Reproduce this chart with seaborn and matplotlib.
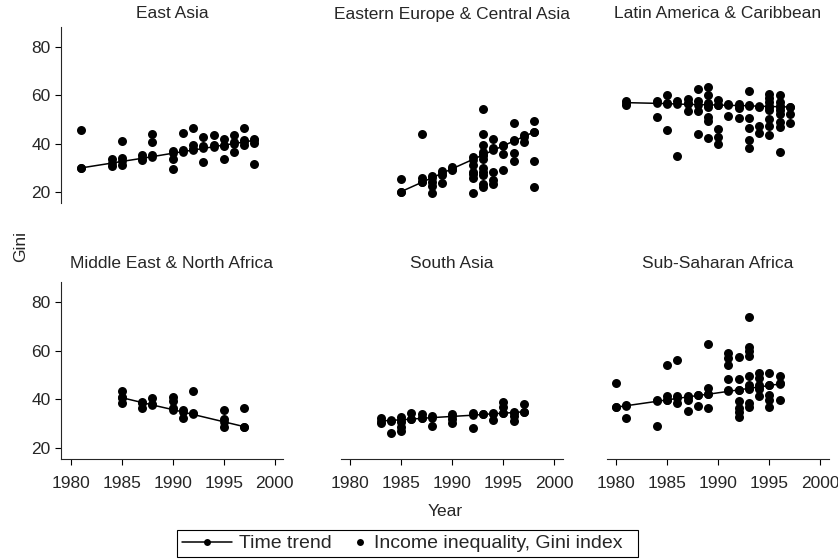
import matplotlib
matplotlib.use("Agg")
import matplotlib.pyplot as plt
import pandas as pd
import seaborn as sns
from matplotlib.lines import Line2D
from matplotlib.legend_handler import HandlerBase

regions = ["East Asia", "Eastern Europe & Central Asia", "Latin America & Caribbean",
           "Middle East & North Africa", "South Asia", "Sub-Saharan Africa"]

# Observed Gini index by survey year, one pair of lists per region
ea_year = [1981, 1981, 1984, 1984, 1985, 1985, 1985, 1987, 1987, 1988, 1988, 1988,
           1990, 1990, 1990, 1991, 1991, 1992, 1992, 1992, 1993, 1993, 1993, 1994, 1994,
           1995, 1995, 1995, 1996, 1996, 1996, 1997, 1997, 1997, 1998, 1998, 1998]
ea_gini = [45.5, 29.9, 33.8, 30.6, 41.1, 34.1, 31.0, 35.4, 33.0, 44.1, 40.8, 35.3,
           37.1, 33.8, 29.4, 44.4, 37.4, 46.5, 39.6, 37.9, 42.6, 38.9, 32.4, 43.4, 39.6,
           41.9, 39.2, 33.6, 43.7, 40.7, 36.6, 46.3, 41.4, 39.6, 42.1, 40.4, 31.6]

ee_year = [1985, 1985, 1987, 1987, 1987, 1988, 1988, 1988, 1988, 1989, 1989, 1989,
           1990, 1990, 1992, 1992, 1992, 1992, 1992, 1992,
           1993, 1993, 1993, 1993, 1993, 1993, 1993, 1993, 1993, 1993, 1993,
           1994, 1994, 1994, 1994, 1994, 1995, 1995, 1995, 1996, 1996, 1996, 1996,
           1997, 1997, 1998, 1998, 1998, 1998]
ee_gini = [25.5, 20.1, 44.1, 25.8, 24.1, 26.6, 24.1, 22.5, 19.7, 28.7, 26.9, 23.6,
           30.3, 29.2, 34.3, 31.0, 28.3, 27.2, 25.8, 19.7,
           54.2, 43.9, 39.6, 36.6, 35.2, 33.8, 29.7, 28.3, 26.9, 23.4, 21.9,
           42.1, 38.2, 28.3, 24.8, 23.2, 39.6, 35.7, 29.0, 48.6, 41.4, 35.9, 32.7,
           43.4, 40.7, 49.4, 44.8, 32.7, 21.9]

la_year = [1981, 1981, 1984, 1984, 1985, 1985, 1985, 1986, 1986, 1987, 1987, 1987,
           1988, 1988, 1988, 1988, 1989, 1989, 1989, 1989, 1989, 1989, 1989,
           1990, 1990, 1990, 1990, 1990, 1991, 1991, 1992, 1992, 1992,
           1993, 1993, 1993, 1993, 1993, 1993, 1994, 1994, 1994,
           1995, 1995, 1995, 1995, 1995, 1995, 1995, 1995,
           1996, 1996, 1996, 1996, 1996, 1996, 1996, 1996, 1997, 1997, 1997]
la_gini = [57.7, 55.9, 57.7, 50.9, 60.0, 57.0, 45.7, 57.5, 34.8, 58.6, 56.8, 53.5,
           62.6, 57.5, 53.5, 43.9, 63.6, 60.0, 57.0, 55.0, 51.0, 49.4, 42.5,
           57.9, 56.1, 45.9, 42.8, 39.7, 56.6, 51.6, 56.6, 54.8, 50.8,
           61.8, 56.1, 50.6, 46.5, 41.7, 38.3, 55.2, 47.2, 44.6,
           60.7, 58.9, 57.2, 55.2, 53.9, 50.1, 47.2, 43.7,
           60.1, 57.2, 55.4, 53.8, 52.3, 49.0, 46.9, 36.6, 55.2, 52.1, 48.6]

me_year = [1985, 1985, 1985, 1987, 1987, 1988, 1988, 1990, 1990, 1990,
           1991, 1991, 1992, 1992, 1995, 1995, 1995, 1997, 1997]
me_gini = [43.4, 40.8, 38.6, 39.0, 36.3, 40.4, 38.1, 40.8, 39.3, 36.3,
           35.6, 32.2, 43.4, 34.2, 35.6, 31.8, 28.8, 36.6, 28.8]

sa_year = [1983, 1983, 1984, 1984, 1985, 1985, 1985, 1985, 1986, 1986, 1987, 1987,
           1988, 1988, 1990, 1990, 1990, 1992, 1992, 1993, 1994, 1994,
           1995, 1995, 1995, 1996, 1996, 1996, 1997, 1997]
sa_gini = [32.5, 30.4, 31.1, 26.0, 32.9, 30.8, 28.8, 27.1, 34.2, 31.8, 34.0, 32.2,
           33.2, 29.0, 34.0, 31.8, 30.1, 34.2, 28.4, 33.8, 34.2, 31.5,
           39.0, 37.0, 34.2, 34.9, 33.3, 31.2, 37.9, 34.7]

ss_year = [1980, 1980, 1981, 1981, 1984, 1984, 1985, 1985, 1985, 1986, 1986, 1986,
           1987, 1987, 1987, 1988, 1988, 1989, 1989, 1989, 1989,
           1991, 1991, 1991, 1991, 1991, 1992, 1992, 1992, 1992, 1992, 1992, 1992,
           1993, 1993, 1993, 1993, 1993, 1993, 1993, 1993, 1993,
           1994, 1994, 1994, 1994, 1994, 1995, 1995, 1995, 1995, 1995, 1996, 1996, 1996]
ss_gini = [46.8, 36.8, 37.5, 32.5, 39.7, 29.2, 54.1, 41.4, 39.7, 56.2, 41.4, 38.6,
           41.4, 39.7, 35.3, 41.9, 37.1, 62.7, 44.5, 42.1, 36.4,
           59.2, 56.8, 54.1, 48.4, 43.8, 57.5, 48.2, 43.8, 39.2, 36.6, 34.7, 32.9,
           74.0, 61.4, 60.0, 57.8, 49.7, 45.9, 44.1, 38.6, 37.0,
           50.7, 48.6, 45.9, 44.1, 41.5, 50.7, 45.9, 41.8, 39.7, 37.0, 49.7, 46.8, 39.7]

# Fitted time trend per region, at each survey year
ea_trend_year = [1981, 1984, 1985, 1987, 1988, 1990, 1991, 1992, 1993, 1994, 1995, 1996, 1997, 1998]
ea_trend_gini = [29.9, 31.9, 32.6, 33.9, 34.6, 36.0, 36.7, 37.3, 38.0, 38.7, 39.4, 40.0, 40.7, 41.4]
ee_trend_year = [1985, 1987, 1988, 1989, 1990, 1992, 1993, 1994, 1995, 1996, 1997, 1998]
ee_trend_gini = [20.1, 23.9, 25.8, 27.7, 29.6, 33.4, 35.3, 37.2, 39.1, 41.0, 42.9, 44.8]
la_trend_year = [1981, 1984, 1985, 1986, 1987, 1988, 1989, 1990, 1991, 1992, 1993, 1994, 1995, 1996, 1997]
la_trend_gini = [57.0, 56.7, 56.6, 56.4, 56.3, 56.2, 56.1, 56.0, 55.9, 55.8, 55.7, 55.5, 55.4, 55.3, 55.2]
me_trend_year = [1985, 1987, 1988, 1990, 1991, 1992, 1995, 1997]
me_trend_gini = [40.7, 38.7, 37.7, 35.8, 34.8, 33.8, 30.8, 28.8]
sa_trend_year = [1983, 1984, 1985, 1986, 1987, 1988, 1990, 1992, 1993, 1994, 1995, 1996, 1997]
sa_trend_gini = [31.1, 31.4, 31.6, 31.9, 32.2, 32.5, 33.0, 33.5, 33.8, 34.1, 34.3, 34.6, 34.9]
ss_trend_year = [1980, 1981, 1984, 1985, 1986, 1987, 1988, 1989, 1991, 1992, 1993, 1994, 1995, 1996]
ss_trend_gini = [36.8, 37.4, 39.2, 39.8, 40.4, 41.0, 41.6, 42.1, 43.3, 43.9, 44.5, 45.1, 45.7, 46.3]

x_ticks = [1980, 1985, 1990, 1995, 2000]
y_ticks = [20, 40, 60, 80]

obs_lists = [(ea_year, ea_gini), (ee_year, ee_gini), (la_year, la_gini),
             (me_year, me_gini), (sa_year, sa_gini), (ss_year, ss_gini)]
trend_lists = [(ea_trend_year, ea_trend_gini), (ee_trend_year, ee_trend_gini),
               (la_trend_year, la_trend_gini), (me_trend_year, me_trend_gini),
               (sa_trend_year, sa_trend_gini), (ss_trend_year, ss_trend_gini)]

obs = pd.concat([pd.DataFrame({"region": r, "year": y, "gini": g})
                 for r, (y, g) in zip(regions, obs_lists)], ignore_index=True)
trend = pd.concat([pd.DataFrame({"region": r, "year": y, "gini": g})
                   for r, (y, g) in zip(regions, trend_lists)], ignore_index=True)

sns.set_theme(style="ticks")
plt.rcParams["font.family"] = ["Liberation Sans", "DejaVu Sans"]
plt.rcParams["axes.linewidth"] = 0.8
FS = 12.5

W, H = 838, 560
fig = plt.figure(figsize=(W / 100, H / 100), dpi=100)
fig.patch.set_facecolor("white")

col_left = [61, 340.5, 606.5]
panel_w = 222
rows = [(27.2, 202.9), (281.7, 459.3)]
title_y = [14, 263]

for i, region in enumerate(regions):
    r, c = divmod(i, 3)
    top, bot = rows[r]
    ax = fig.add_axes([col_left[c] / W, 1 - bot / H, panel_w / W, (bot - top) / H])
    sub = obs[obs.region == region]
    tr = trend[trend.region == region]
    sns.lineplot(data=tr, x="year", y="gini", color="black", linewidth=1.1,
                 marker="o", markersize=6.3, markeredgewidth=0, errorbar=None,
                 ax=ax, legend=False, zorder=3)
    sns.scatterplot(data=sub, x="year", y="gini", color="black", s=42,
                    linewidth=0, ax=ax, legend=False, zorder=4)
    ax.set_xlim(1979.05, 2000.8)
    ax.set_ylim(15.4, 88.3)
    ax.set_xticks(x_ticks)
    ax.set_yticks(y_ticks)
    ax.set_xlabel("")
    ax.set_ylabel("")
    ax.set_facecolor("white")
    for s in ["top", "right"]:
        ax.spines[s].set_visible(False)
    ax.spines["left"].set_visible(c == 0)
    ax.spines["bottom"].set_visible(r == 1)
    ax.tick_params(axis="x", bottom=(r == 1), labelbottom=(r == 1),
                   length=4.1, width=0.8, pad=8, labelsize=FS, color="black")
    ax.tick_params(axis="y", left=(c == 0), labelleft=(c == 0),
                   length=4.1, width=0.8, pad=3.2, labelsize=FS, color="black")
    cx = (col_left[c] + panel_w / 2) / W
    fig.text(cx, 1 - title_y[r] / H, region, ha="center", va="center", fontsize=FS)

fig.text(21 / W, 1 - 247 / H, "Gini", rotation=90, ha="center", va="center", fontsize=FS)
fig.text(445 / W, 1 - 511 / H, "Year", ha="center", va="center", fontsize=FS)


class RightDot(HandlerBase):
    """Single marker placed near the right end of the handle box."""
    def create_artists(self, legend, orig_handle, xdescent, ydescent,
                       width, height, fontsize, trans):
        dot = Line2D([width - xdescent - 5.5], [height / 2 - ydescent],
                     marker="o", linestyle="none", color="black",
                     markersize=orig_handle.get_markersize(),
                     markeredgewidth=0, transform=trans)
        return [dot]


h_trend = Line2D([0], [0], color="black", linewidth=1.1, marker="o",
                 markersize=5, markeredgewidth=0)
h_obs = Line2D([0], [0], color="black", linestyle="none", marker="o",
               markersize=5, markeredgewidth=0)
leg = fig.legend([h_trend, h_obs], ["Time trend", "Income inequality, Gini index  "],
                 ncol=2, loc="center", bbox_to_anchor=(407.5 / W, 1 - 543.5 / H),
                 frameon=True, fancybox=False, framealpha=1, edgecolor="black",
                 fontsize=14, handlelength=2.57, handletextpad=0.36,
                 columnspacing=-0.72, borderpad=0.22, numpoints=1,
                 handler_map={h_obs: RightDot()})
leg.get_frame().set_linewidth(0.8)

fig.savefig("out.png", dpi=100, facecolor="white")
